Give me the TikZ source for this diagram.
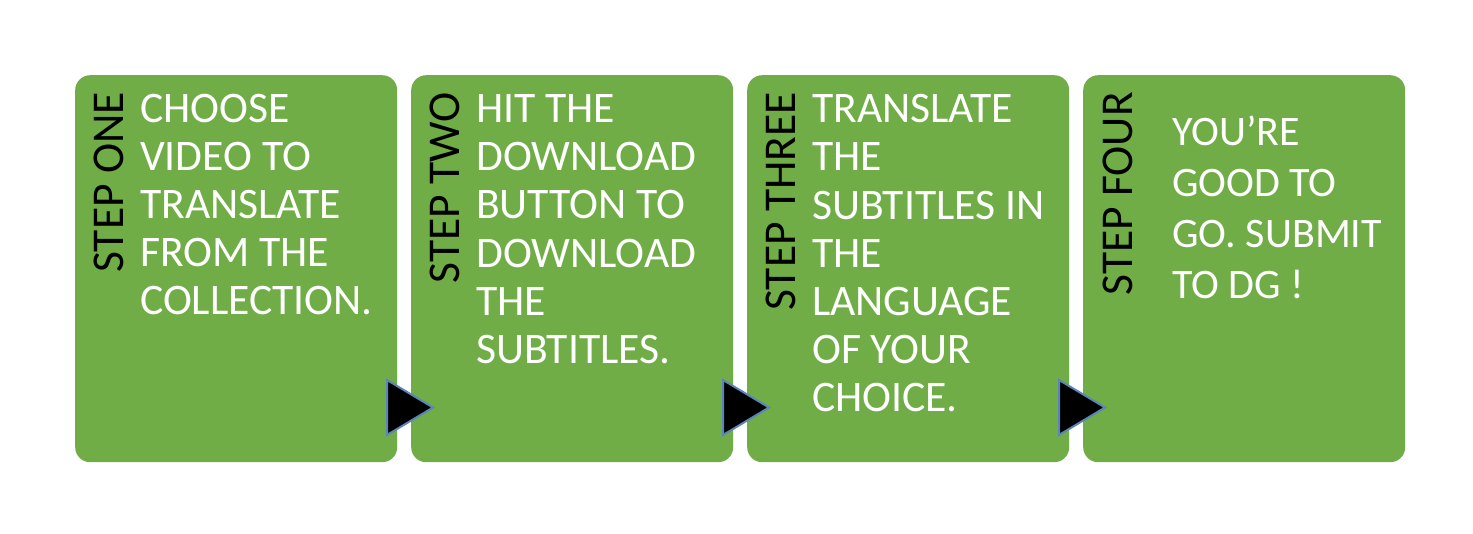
\documentclass[tikz,border=0pt]{standalone}
\usepackage{fontspec}
\setmainfont{Carlito}
\definecolor{boxgreen}{HTML}{70AD47}
\definecolor{triedge}{HTML}{5A86B6}
\begin{document}
\begin{tikzpicture}[x=1pt,y=-1pt,
  stepbox/.style={draw=none,fill=boxgreen,rounded corners=15pt,minimum width=322pt,minimum height=387pt,inner sep=0pt,anchor=north west},
  steplab/.style={text=black,font={\fontsize{45.5}{48}\selectfont},inner sep=0pt,anchor=base east,rotate=90},
  body/.style={text=white,font={\fontsize{43.6}{48.2}\selectfont},inner sep=0pt,anchor=base west,align=left},
  bodyb/.style={text=white,font={\fontsize{42}{51}\selectfont},inner sep=0pt,anchor=base west,align=left},
  arrowtri/.style={fill=black,draw=triedge,line width=2pt,line join=miter}]
\useasboundingbox (0,0) rectangle (1473,534);
\fill[white] (0,0) rectangle (1473,534);
\node[stepbox] (b1) at (75,75) {};
\node[stepbox] (b2) at (411,75) {};
\node[stepbox] (b3) at (747,75) {};
\node[stepbox] (b4) at (1083,75) {};
\node[steplab] (s1) at (123,92) {STEP ONE};
\node[steplab] (s2) at (459,92) {STEP TWO};
\node[steplab] (s3) at (795,92) {STEP THREE};
\node[steplab] (s4) at (1132,92) {STEP FOUR};
% anchors sit on the baseline of the last line
\node[body] (t1) at (140,315) {CHOOSE\\VIDEO TO\\TRANSLATE\\FROM THE\\COLLECTION.};
\node[body] (t2) at (476,363.5) {HIT THE\\DOWNLOAD\\BUTTON TO\\DOWNLOAD\\THE\\SUBTITLES.};
\node[body] (t3) at (812,412) {TRANSLATE\\THE\\SUBTITLES IN\\THE\\LANGUAGE\\OF YOUR\\CHOICE.};
\node[bodyb] (t4) at (1172,299) {YOU’RE\\GOOD TO\\GO. SUBMIT\\TO DG !};
\foreach \i/\x in {1/387,2/723,3/1059}{
  \coordinate (a\i) at (\x,380);
  \coordinate (c\i) at (\x,435);
  \coordinate (p\i) at (\x+46,407.5);
  \draw[arrowtri] (a\i) -- (p\i) -- (c\i) -- cycle;
}
\end{tikzpicture}
\end{document}
